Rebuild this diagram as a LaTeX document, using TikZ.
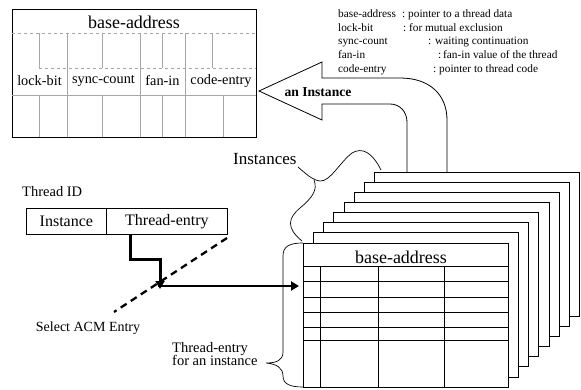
\documentclass[tikz,border=0pt]{standalone}
\usepackage{fontspec}
\setmainfont{Liberation Serif}
\usetikzlibrary{arrows.meta}

\newcommand{\fs}[1]{\fontsize{#1}{#1}\selectfont}

\tikzset{
  frame/.style={draw, line width=0.8pt, inner sep=0pt, anchor=north west},
  faint/.style={draw=gray!70, line width=0.5pt},
  card/.style={draw, fill=white, line width=0.7pt},
  grid/.style={draw, line width=0.6pt},
  head/.style={font=\fs{18}},
  field/.style={font=\fs{14.3}},
  legtext/.style={font=\fs{11.3}, anchor=base west, inner sep=0pt},
  caption/.style={font=\fs{14.5}},
  bracepath/.style={draw, line width=0.7pt},
  fatarrow/.style={line width=3pt, -{Triangle[length=8pt,width=9pt]}},
  selectline/.style={line width=2.3pt, dash pattern=on 7pt off 5pt}
}

\begin{document}
\begin{tikzpicture}[x=1pt, y=-1pt]
\useasboundingbox (0,0) rectangle (581,390);

% ---- record layout of one ACM entry ----
\node[frame, minimum width=244pt, minimum height=128pt] (entry) at (12,9) {};
\node[head] (hdr) at (134,22) {base-address};
\draw[faint, dashed] (12,33) -- (256,33);
\draw[faint, dashed] (39,68) -- (256,68);
\draw[faint] (12,95) -- (256,95);
% dividers that cross the field row
\foreach \x in {67,140,185} \draw[faint] (\x,33) -- (\x,137);
% sub-field marks above and below the field row
\foreach \x in {39,102,162,212} \draw[faint] (\x,33) -- (\x,68);
\foreach \x in {39,102,162,223} \draw[faint] (\x,95) -- (\x,137);
\node[field] (lock) at (39.5,81) {lock-bit};
\node[field] (sync) at (103.5,81) {sync-count};
\node[field] (fanin) at (162.5,81) {fan-in};
\node[field] (code) at (221,81) {code-entry};

% ---- field descriptions ----
\node[legtext] (l1a) at (338,18) {base-address};
\node[legtext] (l1b) at (402,18) {:};
\node[legtext] (l1c) at (408,18) {pointer to a thread data};
\node[legtext] (l2a) at (338,31.5) {lock-bit};
\node[legtext] (l2b) at (403,31.5) {:};
\node[legtext] (l2c) at (409,31.5) {for mutual exclusion};
\node[legtext] (l3a) at (338,45) {sync-count};
\node[legtext] (l3b) at (428,45) {:};
\node[legtext] (l3c) at (435,45) {waiting continuation};
\node[legtext] (l4a) at (338,59) {fan-in};
\node[legtext] (l4b) at (438,59) {:};
\node[legtext] (l4c) at (443,59) {fan-in value of the thread};
\node[legtext] (l5a) at (338,72.5) {code-entry};
\node[legtext] (l5b) at (433,72.5) {:};
\node[legtext] (l5c) at (439,72.5) {pointer to thread code};

% ---- hollow arrow lifting an instance out of the stack ----
\draw[line width=0.8pt, fill=white]
  (447,172) -- (447,120) .. controls (447,95) and (430,78) .. (400,78)
  -- (322,78) -- (322,62) -- (259,91) -- (322,120) -- (322,104)
  -- (390,104) .. controls (400,104) and (407,112) .. (407,122) -- (407,172);
\node[font=\bfseries\fs{13.6}] (inst) at (318,92) {an Instance};

% ---- stack of instance tables ----
\foreach \i in {7,...,1}
  \draw[card] ({303+10.25*\i},{243-10.15*\i}) rectangle +(205,144);
\node[frame, card, minimum width=205pt, minimum height=144pt] (front) at (303,243) {};
\node[head] (fhdr) at (401,257) {base-address};
\foreach \y in {266,281,297,312,327,340} \draw[grid] (303,\y) -- (508,\y);
\foreach \x in {320,378,444} \draw[grid] (\x,266) -- (\x,387);

% ---- brace naming the instances ----
\node[font=\fs{17}, anchor=base west, inner sep=0pt] (insts) at (233,165) {Instances};
\draw[bracepath] (381,170) .. controls (372,152) and (362,147) .. (352,153)
  .. controls (340,162) and (330,182) .. (320,181)
  .. controls (312,180) and (305,173) .. (298,167);
\draw[bracepath] (314,180) .. controls (318,190) and (312,198) .. (300,208)
  .. controls (288,218) and (286,228) .. (302,241);

% ---- brace for the thread entries of one instance ----
\node[caption, align=left, anchor=north west, inner sep=0pt] (tecap) at (172,342)
  {Thread-entry\\[-1pt]for an instance};
\draw[bracepath] (303,243) .. controls (290,243) and (283,246) .. (283,256)
  -- (283,352) .. controls (283,360) and (277,363) .. (266,363)
  .. controls (277,364) and (283,368) .. (283,376)
  .. controls (283,384) and (290,387) .. (303,387);

% ---- thread identifier ----
\node[font=\fs{14.5}, anchor=base west, inner sep=0pt] (tid) at (22,197) {Thread ID};
\node[frame, font=\fs{16}, minimum width=80pt, minimum height=26pt] (instf) at (26,208) {Instance};
\node[frame, font=\fs{16}, minimum width=121pt, minimum height=26pt] (tentry) at (106,208) {Thread-entry};

\coordinate (sel) at (160,286);
\draw[fatarrow] ([xshift=24pt]tentry.south west) |- (160,259) -- ([yshift=-3pt]sel);
\draw[fatarrow, line width=2.6pt, shorten >=4pt] ([xshift=-2pt]sel) -- (sel -| front.west);

\coordinate (d1) at (227,238);
\coordinate (d2) at (114,312);
\draw[selectline] (d1) -- (d2);
\node[font=\fs{14}] (acm) at (88,328) {Select ACM Entry};
\end{tikzpicture}
\end{document}
